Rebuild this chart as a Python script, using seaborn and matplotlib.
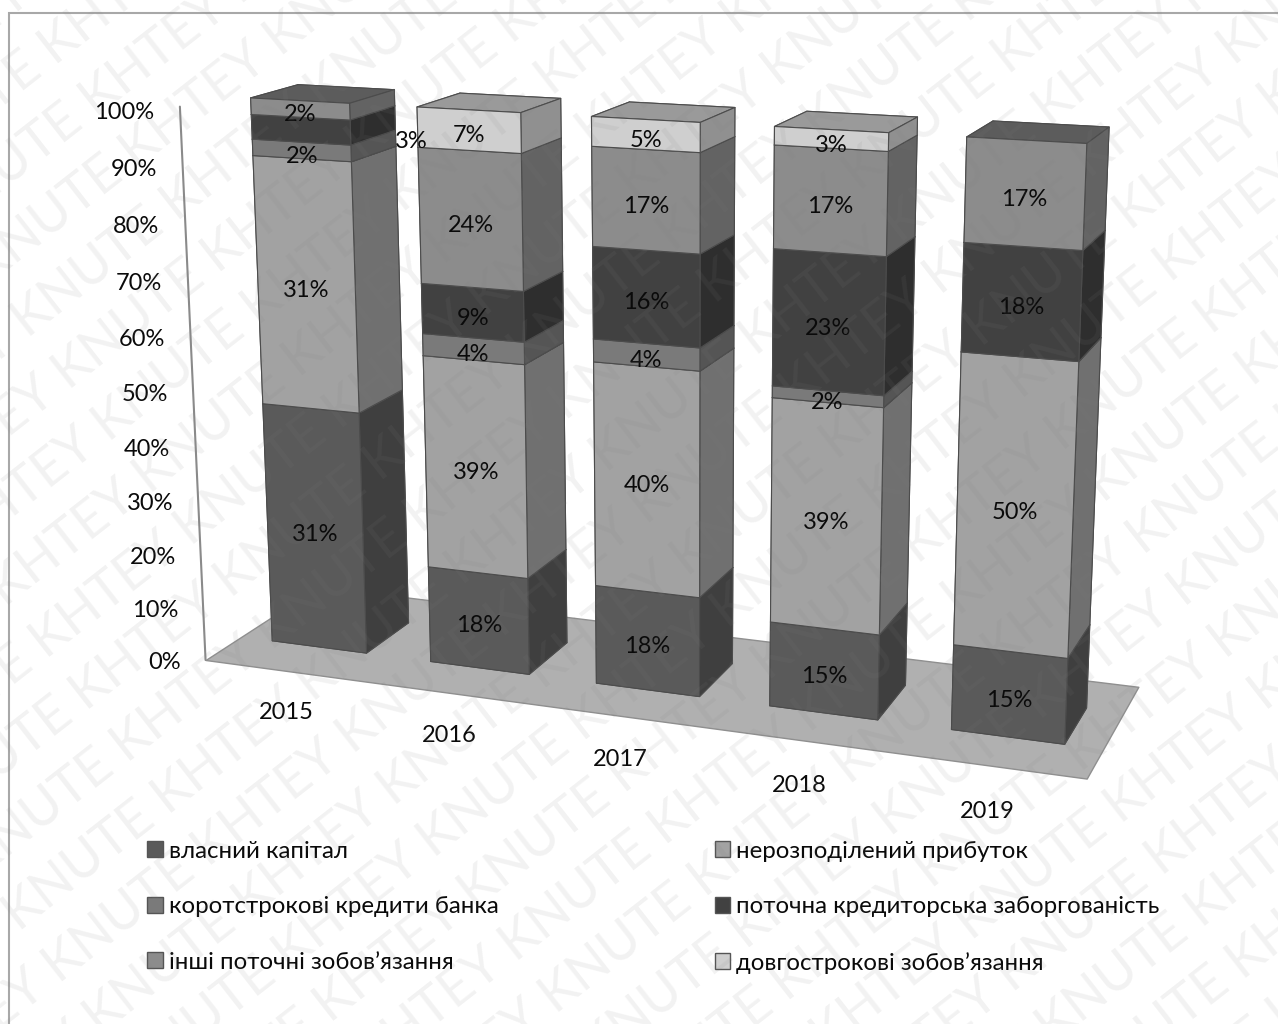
import matplotlib
matplotlib.use("Agg")
import matplotlib.pyplot as plt
import numpy as np
import seaborn as sns
from matplotlib.patches import Patch, Rectangle
from mpl_toolkits.mplot3d.art3d import Poly3DCollection

years = ["2015", "2016", "2017", "2018", "2019"]
series = ["власний капітал", "нерозподілений прибуток", "коротстрокові кредити банка",
          "поточна кредиторська заборгованість", "інші поточні зобов’язання", "довгострокові зобов’язання"]
own_capital = [31, 18, 18, 15, 15]
retained = [31, 39, 40, 39, 50]
bank_loans = [2, 4, 4, 2, 0]
payables = [3, 9, 16, 23, 18]
other_current = [2, 24, 17, 17, 17]
long_term = [0, 7, 5, 3, 0]
value_rows = [own_capital, retained, bank_loans, payables, other_current, long_term]
axis_ticks = [0, 10, 20, 30, 40, 50, 60, 70, 80, 90, 100]

front = ["#5a5a5a", "#a2a2a2", "#7a7a7a", "#414141", "#8c8c8c", "#cfcfcf"]
side = ["#3f3f3f", "#707070", "#555555", "#2e2e2e", "#636363", "#909090"]
top = ["#454545", "#7e7e7e", "#5f5f5f", "#333333", "#5f5f5f", "#9a9a9a"]

# Camera calibration: scene anchors (slot, depth, percent) and where they sit in the frame.
cam_scene = [(0, 0, 0), (5, 0, 0), (5, 1, 0), (0, 0, 100),
             (.2, .3, 0), (.8, .3, 0), (.8, .7, 0), (.2, .3, 100), (.8, .3, 100), (.8, .7, 100),
             (4.2, .3, 0), (4.8, .3, 0), (4.8, .7, 0), (4.2, .3, 100), (4.8, .3, 100), (4.8, .7, 100),
             (2.2, .3, 0), (2.8, .3, 0), (2.8, .7, 0)]
cam_frame = [(205, 660), (1088, 778), (1140, 685), (178, 108),
             (273, 642), (366, 653), (408, 622), (253, 98), (348, 103), (395, 89),
             (953, 728), (1063, 743), (1084, 715), (970, 137), (1085, 143), (1108, 127),
             (599, 683), (698, 696), (732, 662)]


def fit_camera(scene, frame):
    rows, rhs = [], []
    for (x, y, z), (u, v) in zip(scene, frame):
        rows.append([x, y, z, 1, 0, 0, 0, 0, -u * x, -u * y, -u * z])
        rhs.append(u)
        rows.append([0, 0, 0, 0, x, y, z, 1, -v * x, -v * y, -v * z])
        rhs.append(v)
    p = np.linalg.lstsq(np.array(rows, float), np.array(rhs, float), rcond=None)[0]
    return np.append(p, 1.0).reshape(3, 4)


sns.set_theme(style="white")
plt.rcParams["font.family"] = ["Lato", "Open Sans", "DejaVu Sans"]
FS = 17
INK = "#0a0a0a"
W, H = 1278, 1024

fig = plt.figure(figsize=(W / 100, H / 100), dpi=100)
ax = fig.add_axes([0, (H - W) / 2 / H, 1, W / H], projection="3d", computed_zorder=False)
ax.set_axis_off()
ax.patch.set_alpha(0)
ax.set_xlim(0, 5); ax.set_ylim(0, 1); ax.set_zlim(0, 100)
camera = fit_camera(cam_scene, cam_frame)


def fitted_proj():
    flip = np.array([[1, 0, 0], [0, -1, H], [0, 0, 1]], float)
    P = np.linalg.inv(ax.transData.get_matrix()) @ flip @ camera
    return np.vstack([P[0], P[1], P[2] - np.array([0, 0, 0, 1.0]), P[2]])


ax.get_proj = fitted_proj

floor = Poly3DCollection([[(0, 0, 0), (5, 0, 0), (5, 1, 0), (0, 1, 0)]],
                         facecolor="#b0b0b0", edgecolor="#8f8f8f", lw=1, zorder=1)
ax.add_collection3d(floor)
ax.plot([0, 0], [0, 0], [0, 100], color="#8a8a8a", lw=1.5, zorder=1)

BW, BD, Y0 = 0.6, 0.4, 0.3
xs, ys, zs, dz, colours = [], [], [], [], []
vals = np.array(value_rows, dtype=float)
totals = vals.sum(axis=0)
cum = np.zeros(len(years))
for s, row in enumerate(vals):
    share = row / totals * 100
    for i in range(len(years)):
        if row[i] == 0:
            continue
        x0 = i + (1 - BW) / 2
        is_top = cum[i] + share[i] >= 99.99
        top_c = "#5c5c5c" if (is_top and s == 4) else top[s]
        xs.append(x0); ys.append(Y0); zs.append(cum[i]); dz.append(share[i])
        colours += [side[s], top_c, front[s], side[s], side[s], side[s]]
        dx = 0.66 if (i == 0 and s == 3) else 0.0
        ax.text(x0 + BW / 2 + dx, Y0, cum[i] + share[i] / 2 - 1, f"{int(row[i])}%",
                ha="center", va="center", fontsize=FS, color=INK, zorder=5)
    cum += share
ax.bar3d(xs, ys, zs, BW, BD, dz, color=colours, shade=False, edgecolor="#4c4c4c",
         linewidth=0.8, zorder=2)

for t in axis_ticks:
    ax.text(-0.16, 0, t - 1.2, f"{t}%", ha="right", va="center", fontsize=FS, color=INK, zorder=5)
for i, y in enumerate(years):
    ax.text(i + 0.5, 0, -8, y, ha="center", va="center", fontsize=FS, color=INK, zorder=5)

fig.add_artist(Rectangle((9 / W, -0.01), 1.1, 1 - 13 / H + 0.01, transform=fig.transFigure,
                         fill=False, ec="#a8a8a8", lw=1.5))

order = [0, 2, 4, 1, 3, 5]
handles = [Patch(facecolor=front[k], edgecolor="#555555", label=series[k]) for k in order]
fig.legend(handles=handles, loc="upper left", bbox_to_anchor=(0.115, 0.179), ncol=2, frameon=False,
           fontsize=17.3, labelcolor=INK, handlelength=0.65, handleheight=0.65, handletextpad=0.25,
           labelspacing=1.44, columnspacing=9.0, borderpad=0, borderaxespad=0)

angle = np.deg2rad(38)
line = "KHTEY KNUTE " * 9
for r in range(-14, 16):
    cx = 640 + r * 66 * np.sin(angle)
    cy = 512 + r * 66 * np.cos(angle)
    fig.text(cx / W, 1 - cy / H, line, rotation=38, rotation_mode="anchor",
             ha="center", va="center", fontsize=38, color="#808080", alpha=0.10, zorder=20)

fig.savefig("out.png", dpi=100)
